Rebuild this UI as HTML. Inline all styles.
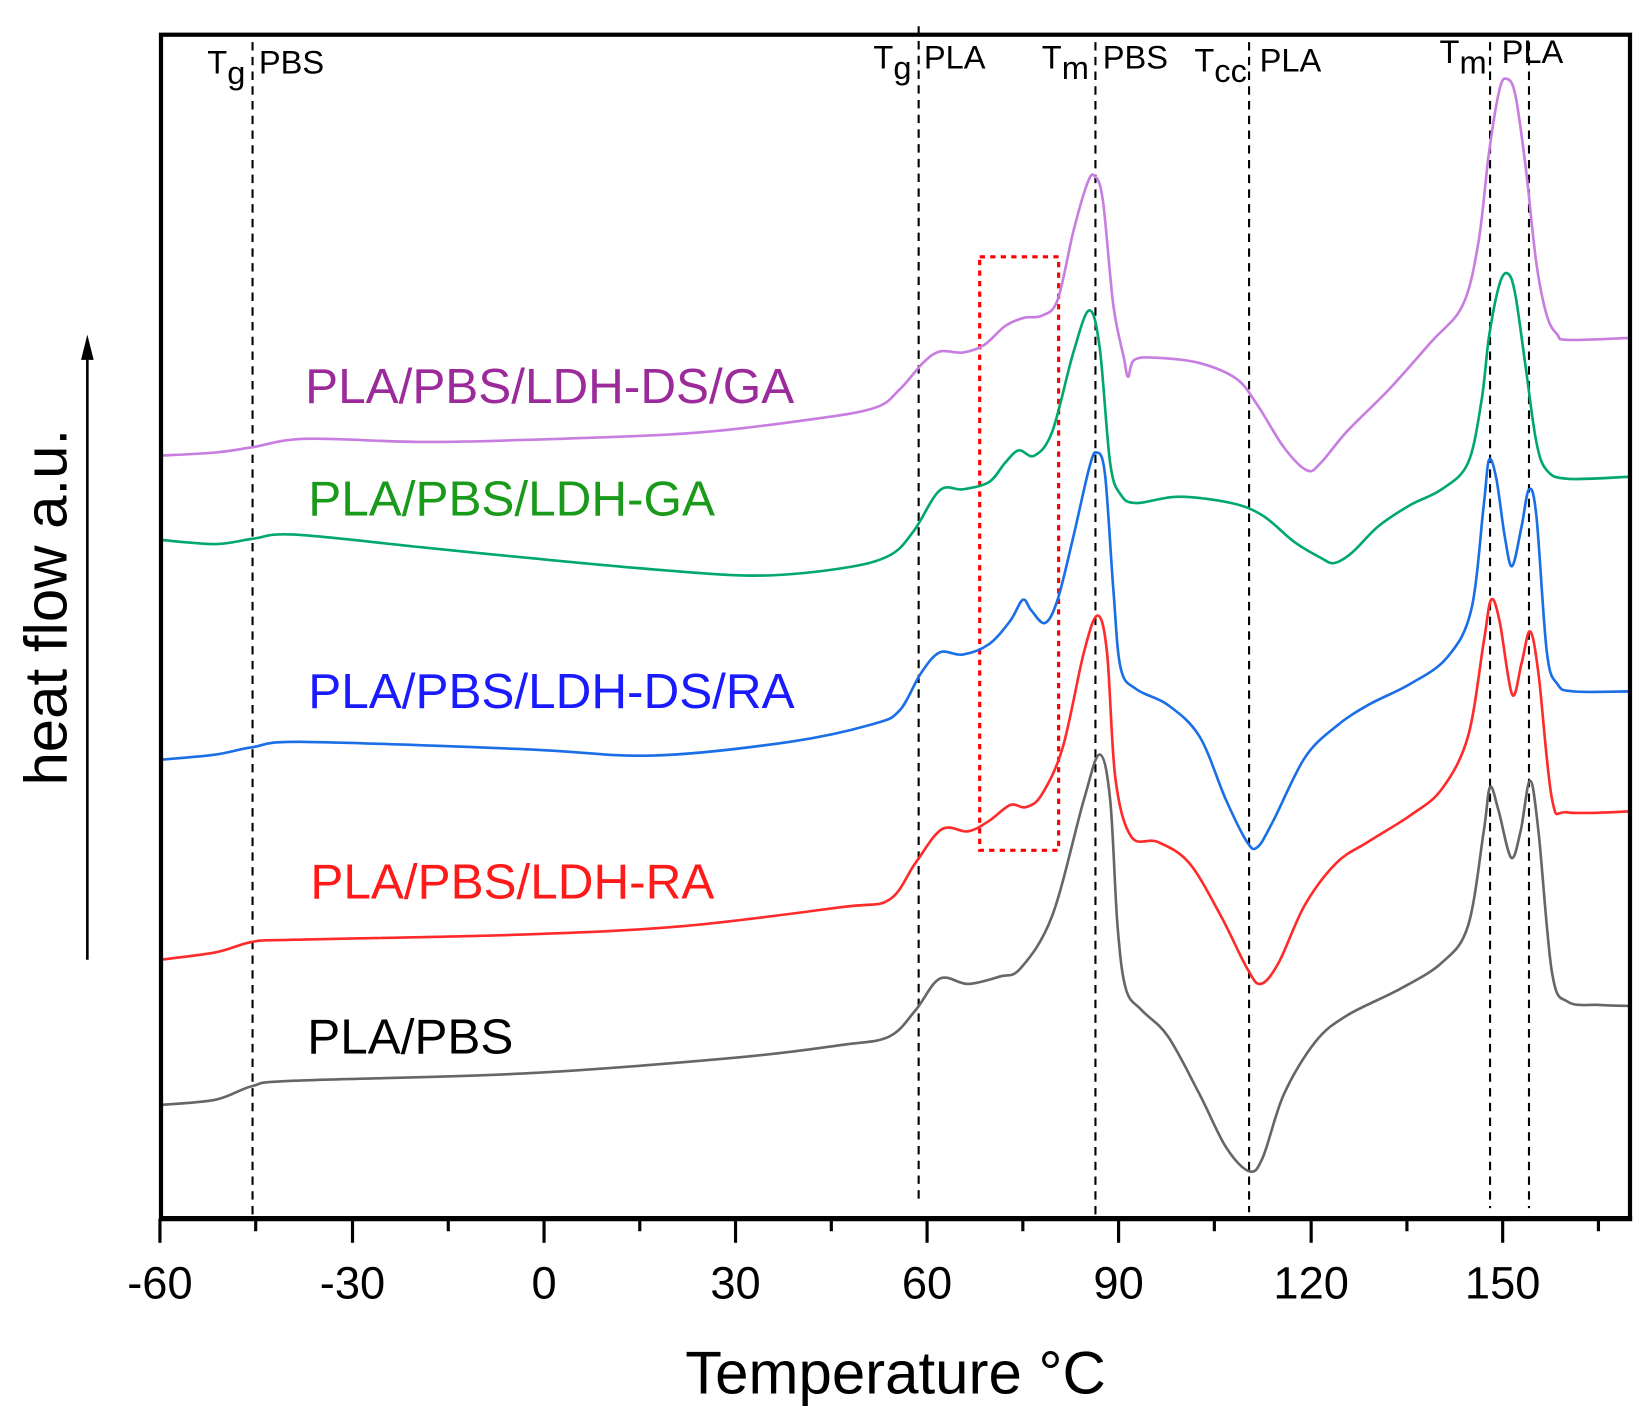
<!DOCTYPE html>
<html><head><meta charset="utf-8"><style>html,body{margin:0;padding:0;background:#fff}svg{display:block}</style></head>
<body>
<svg id="s" width="1650" height="1428" viewBox="0 0 1568 1357" preserveAspectRatio="none" xmlns="http://www.w3.org/2000/svg" font-family="Liberation Sans, sans-serif">
<rect width="1568" height="1357" fill="#fff"/>
<g stroke="#000" stroke-width="2" stroke-dasharray="8,6" fill="none">
<line x1="240" y1="40" x2="240" y2="1158"/>
<line x1="873" y1="25" x2="873" y2="1145"/>
<line x1="1041" y1="40" x2="1041" y2="1158"/>
<line x1="1187" y1="40" x2="1187" y2="1152"/>
<line x1="1416" y1="40" x2="1416" y2="1148"/>
<line x1="1453" y1="40" x2="1453" y2="1148"/>
</g>
<rect x="931" y="244" width="75" height="564" fill="none" stroke="#ff0000" stroke-width="3" stroke-dasharray="5,5"/>
<g fill="none" stroke-width="2.5" stroke-linejoin="round">
<polyline class="c" stroke="#666" points="152,1050 205,1045 240,1032 280,1027 500,1020 700,1005 800,993 845,985 870,960 893,930 920,935 950,928 970,920 1000,870 1030,760 1045,717 1055,760 1062,880 1070,940 1085,960 1110,985 1140,1040 1165,1090 1187,1113 1200,1100 1220,1040 1250,990 1280,965 1330,940 1370,915 1395,880 1410,790 1416,748 1424,770 1436,815 1445,790 1454,742 1462,790 1475,925 1490,952 1520,955 1550,956"/>
<polyline class="c" stroke="#ff2a2a" points="152,912 205,905 240,895 280,893 500,888 650,880 800,862 845,855 870,820 895,788 920,790 940,780 960,765 975,767 990,755 1010,710 1030,620 1043,585 1052,620 1060,740 1075,795 1100,800 1130,820 1160,870 1185,920 1198,935 1215,915 1240,860 1270,820 1300,800 1340,775 1370,750 1395,700 1410,610 1417,570 1425,590 1437,660 1446,630 1454,600 1462,640 1475,760 1490,772 1550,771"/>
<polyline class="c" stroke="#1a6ee6" points="152,722 205,717 240,710 290,705 500,712 620,718 750,705 830,688 855,675 875,640 893,620 915,622 940,612 960,590 972,570 980,580 993,592 1005,570 1020,510 1035,445 1042,430 1050,450 1058,560 1065,635 1080,655 1110,670 1140,700 1165,760 1185,800 1195,805 1210,780 1240,720 1270,690 1300,670 1340,650 1375,625 1398,580 1410,480 1415,437 1422,455 1430,510 1437,538 1446,500 1453,465 1460,490 1470,620 1480,650 1495,657 1550,657"/>
<polyline class="c" stroke="#00a86b" points="152,513 205,517 240,512 280,508 400,520 500,530 620,541 720,547 800,540 845,528 868,505 893,466 915,465 940,458 955,440 968,428 983,433 1000,410 1020,335 1035,295 1045,330 1055,440 1065,470 1080,478 1120,472 1170,478 1200,490 1230,515 1255,530 1268,535 1285,525 1310,500 1340,480 1370,465 1395,440 1408,380 1415,320 1425,270 1433,260 1440,280 1450,350 1460,420 1470,447 1490,455 1550,453"/>
<polyline class="c" stroke="#c77ee0" points="152,433 205,430 240,425 290,417 400,420 500,418 650,412 760,400 830,388 855,370 877,345 893,334 915,335 935,328 955,310 973,302 990,300 1005,285 1020,220 1033,175 1040,167 1048,190 1058,290 1068,340 1072,358 1078,342 1100,340 1140,345 1175,360 1195,385 1220,425 1242,447 1255,440 1280,410 1320,370 1360,325 1390,290 1405,230 1415,145 1425,85 1432,75 1440,90 1450,160 1460,250 1470,300 1480,318 1490,323 1550,321"/>
</g>
<rect x="153" y="33" width="1396" height="1125" fill="none" stroke="#000" stroke-width="4"/>
<line x1="152" y1="1158" x2="1551" y2="1158" stroke="#000" stroke-width="5"/>
<g stroke="#000" stroke-width="3">
<line x1="152" y1="1158" x2="152" y2="1181"/><line x1="335" y1="1158" x2="335" y2="1181"/><line x1="517" y1="1158" x2="517" y2="1181"/><line x1="699" y1="1158" x2="699" y2="1181"/><line x1="881" y1="1158" x2="881" y2="1181"/><line x1="1063" y1="1158" x2="1063" y2="1181"/><line x1="1246" y1="1158" x2="1246" y2="1181"/><line x1="1428" y1="1158" x2="1428" y2="1181"/>
<line x1="243" y1="1158" x2="243" y2="1170"/><line x1="426" y1="1158" x2="426" y2="1170"/><line x1="608" y1="1158" x2="608" y2="1170"/><line x1="790" y1="1158" x2="790" y2="1170"/><line x1="972" y1="1158" x2="972" y2="1170"/><line x1="1154" y1="1158" x2="1154" y2="1170"/><line x1="1337" y1="1158" x2="1337" y2="1170"/><line x1="1519" y1="1158" x2="1519" y2="1170"/>
</g>
<g font-size="43" text-anchor="middle" fill="#000">
<text x="152" y="1234">-60</text><text x="335" y="1234">-30</text><text x="517" y="1234">0</text><text x="699" y="1234">30</text><text x="881" y="1234">60</text><text x="1063" y="1234">90</text><text x="1246" y="1234">120</text><text x="1428" y="1234">150</text>
</g>
<text x="851" y="1324" font-size="57" text-anchor="middle">Temperature °C</text>
<text transform="translate(63,577) rotate(-90)" font-size="57" text-anchor="middle">heat flow a.u.</text>
<line x1="83" y1="912" x2="83" y2="335" stroke="#000" stroke-width="2.5"/>
<polygon points="83,318 77,342 89,342" fill="#000"/>
<g font-size="31" fill="#000">
<text x="197" y="70">T<tspan dy="10">g</tspan><tspan dy="-10" x="246">PBS</tspan></text>
<text x="830" y="65">T<tspan dy="10">g</tspan><tspan dy="-10" x="878">PLA</tspan></text>
<text x="990" y="65">T<tspan dy="10">m</tspan><tspan dy="-10" x="1048">PBS</tspan></text>
<text x="1135" y="68">T<tspan dy="10">cc</tspan><tspan dy="-10" x="1197">PLA</tspan></text>
<text x="1368" y="60">T<tspan dy="10">m</tspan><tspan dy="-10" x="1427">PLA</tspan></text>
</g>
<g font-size="47">
<text x="290" y="383" fill="#9b2a9b">PLA/PBS/LDH-DS/GA</text>
<text x="293" y="490" fill="#1a9a1a">PLA/PBS/LDH-GA</text>
<text x="293" y="673" fill="#1a1aff">PLA/PBS/LDH-DS/RA</text>
<text x="295" y="854" fill="#ff1a1a">PLA/PBS/LDH-RA</text>
<text x="292" y="1001" fill="#000">PLA/PBS</text>
</g>
</svg>
<script>
document.querySelectorAll('polyline.c').forEach(function(pl){
var p=pl.getAttribute('points').trim().split(/\s+/).map(function(s){return s.split(',').map(Number);});
var d='M'+p[0][0]+','+p[0][1];
for(var i=0;i<p.length-1;i++){
var p0=p[i-1]||p[i],p1=p[i],p2=p[i+1],p3=p[i+2]||p2;
var c1x=p1[0]+(p2[0]-p0[0])/6,c1y=p1[1]+(p2[1]-p0[1])/6,c2x=p2[0]-(p3[0]-p1[0])/6,c2y=p2[1]-(p3[1]-p1[1])/6;
d+=' C'+c1x+','+c1y+' '+c2x+','+c2y+' '+p2[0]+','+p2[1];}
var path=document.createElementNS('http://www.w3.org/2000/svg','path');
path.setAttribute('d',d);path.setAttribute('stroke',pl.getAttribute('stroke'));
pl.parentNode.replaceChild(path,pl);});
</script>
</body></html>
